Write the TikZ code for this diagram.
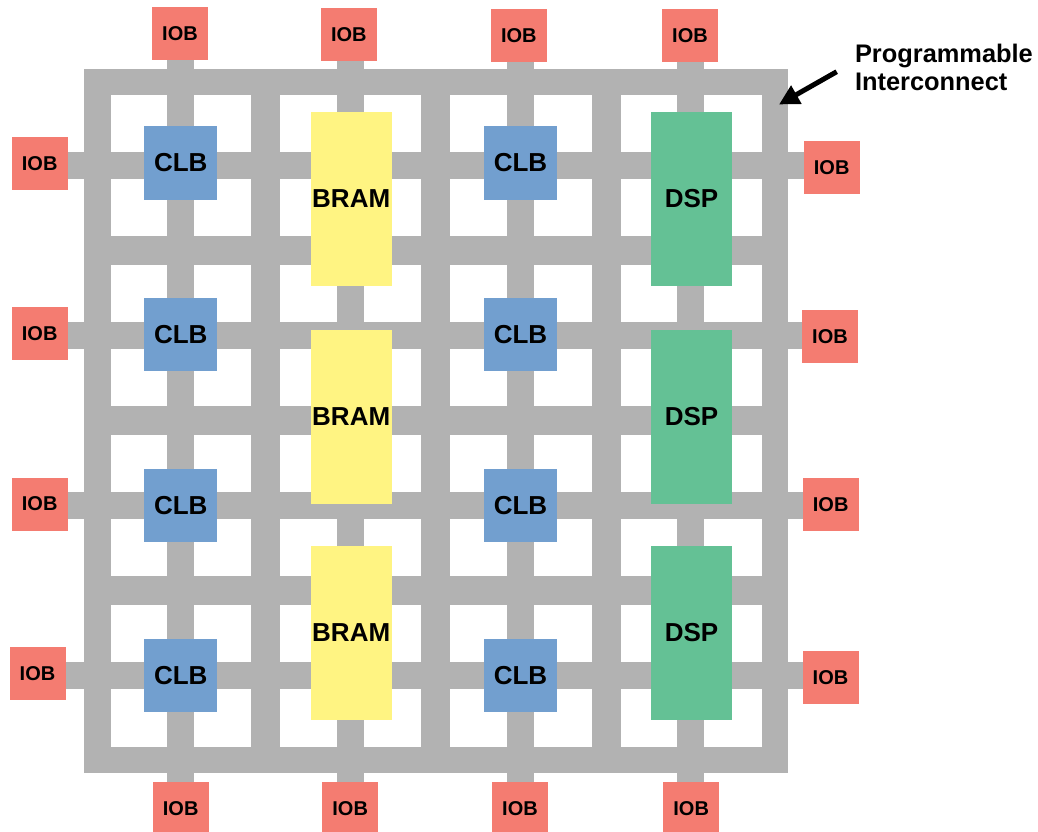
\documentclass[tikz,border=0pt]{standalone}
\usepackage{fontspec}
\setmainfont{Liberation Sans}
\usetikzlibrary{arrows.meta}
\definecolor{gridgray}{HTML}{B2B2B2}
\definecolor{iobred}{HTML}{F47C71}
\definecolor{clbblue}{HTML}{729FCF}
\definecolor{bramyellow}{HTML}{FFF482}
\definecolor{dspgreen}{HTML}{64C195}
\begin{document}
\begin{tikzpicture}[x=1pt,y=-1pt,
  blk/.style={rectangle, inner sep=0pt, draw=none, text=black, font=\bfseries\fontsize{26}{26}\selectfont},
  iob/.style={blk, fill=iobred, minimum width=56pt, minimum height=53pt, font=\bfseries\fontsize{20}{20}\selectfont},
  clb/.style={blk, fill=clbblue, minimum width=73pt, minimum height=73pt},
  bram/.style={blk, fill=bramyellow, minimum width=81pt, minimum height=174pt},
  dsp/.style={blk, fill=dspgreen, minimum width=81pt, minimum height=174pt},
  frame/.style={draw=gridgray, line width=26.5pt, line join=miter},
  major/.style={draw=gridgray, line width=29pt},
  minor/.style={draw=gridgray, line width=27pt},
  pointer/.style={draw=black, line width=5pt, -{Triangle[length=20pt,width=20pt]}},
  callout/.style={inner sep=0pt, anchor=north west, align=left, font=\bfseries\fontsize{25.4}{27.5}\selectfont},
]
\useasboundingbox (0,0) rectangle (1038,832);

% ---- programmable interconnect (grid) ----
\draw[frame] (97.25,82.25) rectangle (774.75,759.75);
\foreach \x in {265.5,435.7,606} \draw[major] (\x,69) -- (\x,773);
\foreach \y in {250,420.3,590.8} \draw[major] (84,\y) -- (788,\y);
\foreach \x in {180.7,350.8,520.8,690.8} \draw[minor] (\x,58) -- (\x,784);
\foreach \y in {165.3,335,505.3,675.7} \draw[minor] (66,\y) -- (804,\y);

% ---- IOBs ----
\node[iob] (t1) at (180,33.7) {IOB};
\node[iob] (t2) at (348.8,34.7) {IOB};
\node[iob] (t3) at (518.8,35.5) {IOB};
\node[iob] (t4) at (690,35.5) {IOB};
\node[iob] (l1) at (39.7,163.5) {IOB};
\node[iob] (l2) at (39.7,333.5) {IOB};
\node[iob] (l3) at (39.7,504) {IOB};
\node[iob] (l4) at (37.5,673.8) {IOB};
\node[iob] (r1) at (831.7,167.2) {IOB};
\node[iob] (r2) at (830,336.8) {IOB};
\node[iob] (r3) at (830.7,504.8) {IOB};
\node[iob] (r4) at (830.5,677.2) {IOB};
\node[iob] (b1) at (180.7,808.3) {IOB};
\node[iob] (b2) at (350.2,808.3) {IOB};
\node[iob] (b3) at (520,808.2) {IOB};
\node[iob] (b4) at (691.2,808.2) {IOB};

% ---- CLBs ----
\node[clb] (c11) at (180.8,163) {CLB};
\node[clb] (c21) at (180.8,334.2) {CLB};
\node[clb] (c31) at (180.8,505.3) {CLB};
\node[clb] (c41) at (180.8,675.2) {CLB};
\node[clb] (c13) at (520.5,163) {CLB};
\node[clb] (c23) at (520.5,334.2) {CLB};
\node[clb] (c33) at (520.5,505.3) {CLB};
\node[clb] (c43) at (520.5,675.2) {CLB};

% ---- BRAMs ----
\node[bram] (m1) at (351.2,198.8) {BRAM};
\node[bram] (m2) at (351.2,416.8) {BRAM};
\node[bram] (m3) at (351.2,633) {BRAM};

% ---- DSPs ----
\node[dsp] (d1) at (691.5,198.7) {DSP};
\node[dsp] (d2) at (691.5,416.8) {DSP};
\node[dsp] (d3) at (691.5,633) {DSP};

% ---- callout ----
\node[callout] (lbl) at (854.8,44.2) {Programmable\\Interconnect};
\coordinate (arrtail) at (836.7,71.7);
\coordinate (arrtip) at (779,104.5);
\draw[pointer] (arrtail) -- (arrtip);
\end{tikzpicture}
\end{document}
